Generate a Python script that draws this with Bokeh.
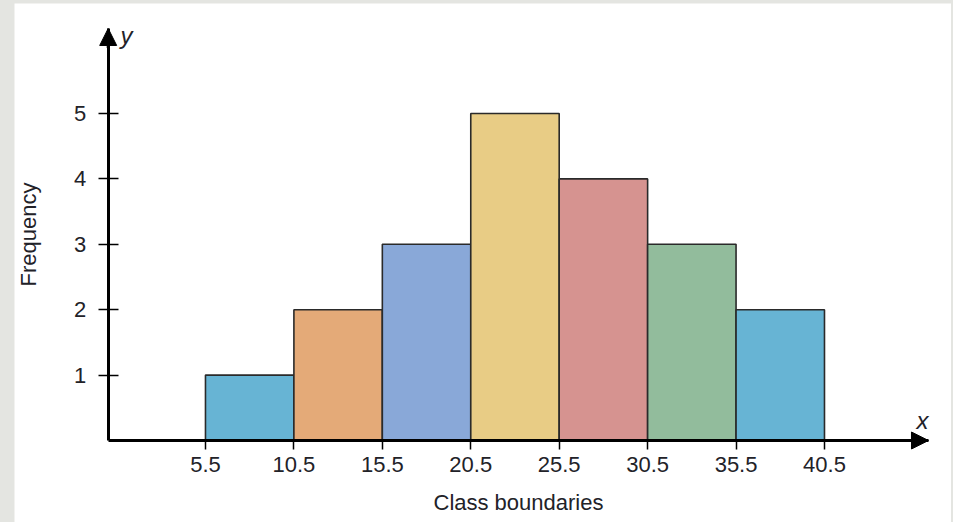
from bokeh.plotting import figure
from bokeh.layouts import column
from bokeh.models import ColumnDataSource, FixedTicker, Arrow, NormalHead, Label
from bokeh.embed import file_html
from bokeh.resources import INLINE

# Frequency distribution by class
class_lower = [5.5, 10.5, 15.5, 20.5, 25.5, 30.5, 35.5]
class_upper = [10.5, 15.5, 20.5, 25.5, 30.5, 35.5, 40.5]
frequency = [1, 2, 3, 5, 4, 3, 2]
boundaries = [5.5, 10.5, 15.5, 20.5, 25.5, 30.5, 35.5, 40.5]
y_ticks = [1, 2, 3, 4, 5]
bar_colors = ["#67b4d4", "#e4aa78", "#89a8d8", "#e8cc85", "#d69390", "#92bc9c", "#67b4d4"]

FONT = "Liberation Sans"
TEXT = "#222228"
W, H = 937, 519
X_PX, Y_PX = 17.686, 65.4        # pixels per data unit
ORIGIN_X, ORIGIN_Y = 93.7, 437.0  # where (0, 0) sits inside the canvas
X_END = 46.38                      # tip of the x-axis arrow
Y_END = 6.30                       # tip of the y-axis arrow

x_range = (-ORIGIN_X / X_PX, (W - ORIGIN_X) / X_PX)
y_range = (-(H - ORIGIN_Y) / Y_PX, ORIGIN_Y / Y_PX)

src = ColumnDataSource(dict(left=class_lower, right=class_upper, top=frequency,
                            bottom=[0] * len(frequency), color=bar_colors))

p = figure(width=W, height=H, output_backend="svg", toolbar_location=None,
           x_range=x_range, y_range=y_range, min_border=0)
p.margin = (3, 2, 0, 14)
p.background_fill_color = "white"
p.border_fill_color = "white"
p.outline_line_color = None
p.xgrid.visible = False
p.ygrid.visible = False

p.quad(left="left", right="right", top="top", bottom="bottom", source=src,
       fill_color="color", line_color="#2a2a2a", line_width=1.6)

# axes drawn through the origin
for ax in (p.xaxis[0], p.yaxis[0]):
    ax.fixed_location = 0
    ax.axis_line_width = 3
    ax.axis_line_color = "black"
    ax.major_tick_line_color = "black"
    ax.major_tick_line_width = 1.5
    ax.minor_tick_line_color = None
    ax.major_label_text_font = FONT
    ax.major_label_text_font_size = "22px"
    ax.major_label_text_color = TEXT
    ax.axis_label_text_font = FONT
    ax.axis_label_text_font_size = "22px"
    ax.axis_label_text_font_style = "normal"
    ax.axis_label_text_color = TEXT

p.xaxis.bounds = (0, X_END)
p.xaxis.ticker = FixedTicker(ticks=boundaries)
p.xaxis.major_label_overrides = {b: f"{b:.1f}" for b in boundaries}
p.xaxis.major_tick_in = 0
p.xaxis.major_tick_out = 9
p.xaxis.major_label_standoff = 7
p.xaxis.axis_label = "Class boundaries"
p.xaxis.axis_label_standoff = 15

p.yaxis.bounds = (0, Y_END)
p.yaxis.ticker = FixedTicker(ticks=y_ticks)
p.yaxis.major_tick_in = 10
p.yaxis.major_tick_out = 10
p.yaxis.major_label_standoff = 12
p.yaxis.major_label_orientation = "horizontal"
p.yaxis.axis_label = "Frequency"
p.yaxis.axis_label_standoff = 30

# arrow heads at the ends of both axes
p.add_layout(Arrow(end=NormalHead(size=17, fill_color="black", line_color="black", line_width=1),
                   x_start=X_END - 1.5, y_start=0, x_end=X_END, y_end=0,
                   line_color="black", line_width=3))
p.add_layout(Arrow(end=NormalHead(size=17, fill_color="black", line_color="black", line_width=1),
                   x_start=0, y_start=Y_END - 0.3, x_end=0, y_end=Y_END,
                   line_color="black", line_width=3))

p.add_layout(Label(x=46.04, y=0.31, text="x", text_font=FONT, text_font_size="24px",
                   text_font_style="italic", text_color=TEXT,
                   text_align="center", text_baseline="middle"))
p.add_layout(Label(x=1.03, y=6.19, text="y", text_font=FONT, text_font_size="24px",
                   text_font_style="italic", text_color=TEXT,
                   text_align="center", text_baseline="middle"))

page = column(p, styles={"background-color": "#e4e5e1"})

open("out.html", "w").write(file_html(page, INLINE))
